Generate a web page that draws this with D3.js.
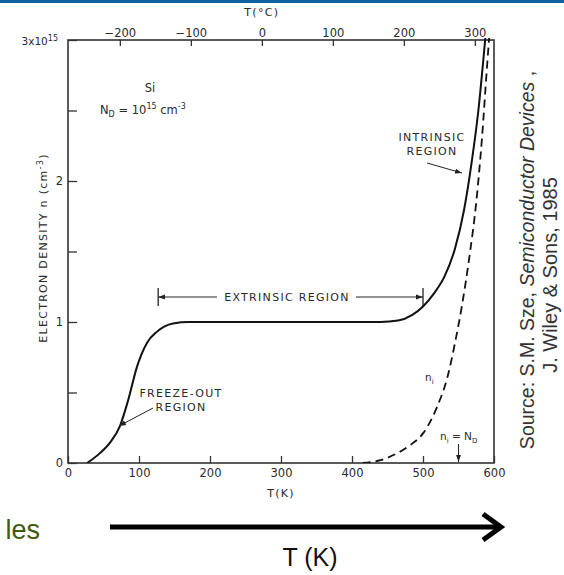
<!DOCTYPE html>
<html>
<head>
<meta charset="utf-8">
<title>Electron density vs temperature</title>
<script src="https://cdn.jsdelivr.net/npm/d3@7"></script>
<style>
  body { margin: 0; background: #fff; }
  svg { display: block; }
  .fig text { font-family: "DejaVu Sans", Arial, sans-serif; fill: #2a2a2a; }
  .tick line { stroke: #333; stroke-width: 1.3; }
  .lbl { font-size: 11px; letter-spacing: 1.3px; }
</style>
</head>
<body>
<svg id="chart" width="564" height="575"></svg>
<script>
// n(T) total electron density, units of 1e15 cm^-3
var tempK = [27, 45, 60, 73, 85, 97, 111, 125, 148, 170, 300, 440, 465, 485, 500, 515, 530, 545, 558, 569, 578, 585, 592];
var nTotal = [0, 0.07, 0.15, 0.26, 0.45, 0.68, 0.85, 0.93, 0.99, 1.0, 1.0, 1.0, 1.01, 1.05, 1.11, 1.2, 1.32, 1.52, 1.8, 2.15, 2.5, 2.86, 3.25];

// intrinsic carrier density n_i(T)
var tempNi = [415, 440, 460, 480, 500, 520, 535, 545, 555, 565, 575, 583, 590, 596];
var nIntr = [0, 0.02, 0.06, 0.12, 0.21, 0.4, 0.62, 0.85, 1.12, 1.45, 1.85, 2.3, 2.8, 3.2];

var ticksK = [0, 100, 200, 300, 400, 500, 600];
var ticksC = [-200, -100, 0, 100, 200, 300];
var ticksN = [0, 0.5, 1, 1.5, 2, 2.5, 3];

var svg = d3.select("#chart");

// blue header strip
svg.append("rect").attr("x", 0).attr("y", 0).attr("width", 564).attr("height", 3).attr("fill", "#11609f");

var L = 68, R = 494, T = 40, B = 463;
var x = d3.scaleLinear().domain([0, 600]).range([L, R]);
var xC = d3.scaleLinear().domain([-273, 327]).range([L, R]);
var y = d3.scaleLinear().domain([0, 3]).range([B, T]);

var g = svg.append("g").attr("class", "fig");

// axes, ticks pointing inward
var bot = g.append("g").attr("transform", "translate(0," + B + ")")
  .call(d3.axisBottom(x).tickValues(ticksK).tickSizeInner(-7).tickSizeOuter(0).tickPadding(8));
var top = g.append("g").attr("transform", "translate(0," + T + ")")
  .call(d3.axisTop(xC).tickValues(ticksC).tickSizeInner(-6).tickSizeOuter(0).tickPadding(3));
var left = g.append("g").attr("transform", "translate(" + L + ",0)")
  .call(d3.axisLeft(y).tickValues(ticksN).tickSizeInner(-9).tickSizeOuter(0).tickPadding(5)
    .tickFormat(function(d) { return (d == 0 || d == 1 || d == 2) ? d : ""; }));
g.selectAll(".domain").remove();
g.selectAll(".tick text").attr("font-size", 11.5).attr("fill", "#2a2a2a");
bot.selectAll(".tick text").attr("dy", "0.5em");

// 3x10^15 at the top of y axis
var t3 = g.append("text").attr("x", 58).attr("y", 45).attr("text-anchor", "end").attr("font-size", 10.5);
t3.append("tspan").text("3x10");
t3.append("tspan").attr("dy", -4).attr("font-size", 8).text("15");

// frame
g.append("rect").attr("x", L).attr("y", T).attr("width", R - L).attr("height", B - T)
  .attr("fill", "none").attr("stroke", "#333").attr("stroke-width", 1.6);

// axis titles
g.append("text").attr("class", "lbl").attr("x", x(300)).attr("y", 497).attr("text-anchor", "middle").text("T(K)");
g.append("text").attr("class", "lbl").attr("x", xC(0)).attr("y", 16).attr("text-anchor", "middle").text("T(°C)");
var yl = g.append("text").attr("class", "lbl").attr("transform", "translate(47,248) rotate(-90)").attr("text-anchor", "middle");
yl.append("tspan").text("ELECTRON DENSITY n (cm");
yl.append("tspan").attr("dy", -4).attr("font-size", 8).text("-3");
yl.append("tspan").attr("dy", 4).text(")");

// curves
svg.append("clipPath").attr("id", "clip").append("rect")
  .attr("x", L).attr("y", T - 2).attr("width", R - L).attr("height", B - T + 2);

var line = d3.line().curve(d3.curveMonotoneX)
  .x(function(d) { return x(d[0]); }).y(function(d) { return y(d[1]); });

g.append("path").datum(d3.zip(tempK, nTotal)).attr("clip-path", "url(#clip)")
  .attr("d", line).attr("fill", "none").attr("stroke", "#111").attr("stroke-width", 2);
g.append("path").datum(d3.zip(tempNi, nIntr)).attr("clip-path", "url(#clip)")
  .attr("d", line).attr("fill", "none").attr("stroke", "#111").attr("stroke-width", 1.8)
  .attr("stroke-dasharray", "8,5");

// arrow markers
var defs = svg.append("defs");
defs.append("marker").attr("id", "tri").attr("viewBox", "0 0 10 10").attr("refX", 10).attr("refY", 5)
  .attr("markerWidth", 7).attr("markerHeight", 7).attr("orient", "auto-start-reverse")
  .append("path").attr("d", "M0,1.5L10,5L0,8.5Z").attr("fill", "#222");

// text annotations
g.append("text").attr("x", 150).attr("y", 92).attr("text-anchor", "middle").attr("font-size", 11.5).text("Si");
var nd = g.append("text").attr("x", 100).attr("y", 114).attr("font-size", 11.5);
nd.append("tspan").text("N");
nd.append("tspan").attr("dy", 3).attr("font-size", 8).text("D");
nd.append("tspan").attr("dy", -3).text(" = 10");
nd.append("tspan").attr("dy", -5).attr("font-size", 8).text("15");
nd.append("tspan").attr("dy", 5).text(" cm");
nd.append("tspan").attr("dy", -5).attr("font-size", 8).text("-3");

// extrinsic bracket
var yb = 297;
g.append("line").attr("x1", x(127)).attr("x2", x(127)).attr("y1", yb - 9).attr("y2", yb + 9).attr("stroke", "#222").attr("stroke-width", 1.3);
g.append("line").attr("x1", x(500)).attr("x2", x(500)).attr("y1", yb - 9).attr("y2", yb + 9).attr("stroke", "#222").attr("stroke-width", 1.3);
g.append("line").attr("x1", 217).attr("x2", x(127)).attr("y1", yb).attr("y2", yb).attr("stroke", "#222").attr("marker-end", "url(#tri)");
g.append("line").attr("x1", 356).attr("x2", x(500)).attr("y1", yb).attr("y2", yb).attr("stroke", "#222").attr("marker-end", "url(#tri)");
g.append("text").attr("class", "lbl").attr("x", 287).attr("y", yb + 4).attr("text-anchor", "middle").text("EXTRINSIC REGION");

// intrinsic label
g.append("text").attr("class", "lbl").attr("x", 432).attr("y", 141).attr("text-anchor", "middle").text("INTRINSIC");
g.append("text").attr("class", "lbl").attr("x", 432).attr("y", 155).attr("text-anchor", "middle").text("REGION");
g.append("line").attr("x1", 427).attr("y1", 163).attr("x2", 462).attr("y2", 173).attr("stroke", "#222").attr("marker-end", "url(#tri)");

// freeze-out label
g.append("text").attr("class", "lbl").attr("x", 181).attr("y", 397).attr("text-anchor", "middle").text("FREEZE-OUT");
g.append("text").attr("class", "lbl").attr("x", 181).attr("y", 411).attr("text-anchor", "middle").text("REGION");
g.append("line").attr("x1", 153).attr("y1", 408).attr("x2", 119).attr("y2", 426).attr("stroke", "#222").attr("marker-end", "url(#tri)");

// n_i labels
var ni = g.append("text").attr("x", 425).attr("y", 381).attr("font-size", 10.5);
ni.append("tspan").text("n");
ni.append("tspan").attr("dy", 3).attr("font-size", 7).text("i");
var nie = g.append("text").attr("x", 440).attr("y", 440).attr("font-size", 10.5);
nie.append("tspan").text("n");
nie.append("tspan").attr("dy", 3).attr("font-size", 7).text("i");
nie.append("tspan").attr("dy", -3).text(" = N");
nie.append("tspan").attr("dy", 3).attr("font-size", 7).text("D");
g.append("line").attr("x1", x(550)).attr("x2", x(550)).attr("y1", 444).attr("y2", B - 1).attr("stroke", "#222").attr("marker-end", "url(#tri)");

// source note
var src = svg.append("g").style("font-family", "Liberation Sans, Arial, sans-serif").attr("fill", "#333");
var s1 = src.append("text").attr("transform", "translate(534,260) rotate(-90)").attr("text-anchor", "middle").attr("font-size", 19.5);
s1.append("tspan").text("Source: S.M. Sze, ");
s1.append("tspan").attr("font-style", "italic").text("Semiconductor Devices");
s1.append("tspan").text(" ,");
src.append("text").attr("transform", "translate(557,275) rotate(-90)").attr("text-anchor", "middle").attr("font-size", 20)
  .text("J. Wiley & Sons, 1985");

// slide remnants: green text and big arrow
svg.append("text").attr("x", 40).attr("y", 539).attr("text-anchor", "end").attr("font-size", 27)
  .style("font-family", "Liberation Sans, Arial, sans-serif").attr("fill", "#3f5a0f").text("les");
svg.append("line").attr("x1", 110).attr("x2", 500).attr("y1", 527).attr("y2", 527).attr("stroke", "#000").attr("stroke-width", 5);
svg.append("path").attr("d", "M483,514L501,527L483,540").attr("fill", "none").attr("stroke", "#000")
  .attr("stroke-width", 5).attr("stroke-linejoin", "miter");
svg.append("text").attr("x", 310).attr("y", 566).attr("text-anchor", "middle").attr("font-size", 25)
  .style("font-family", "Liberation Sans, Arial, sans-serif").attr("fill", "#111").text("T (K)");
</script>
</body>
</html>
